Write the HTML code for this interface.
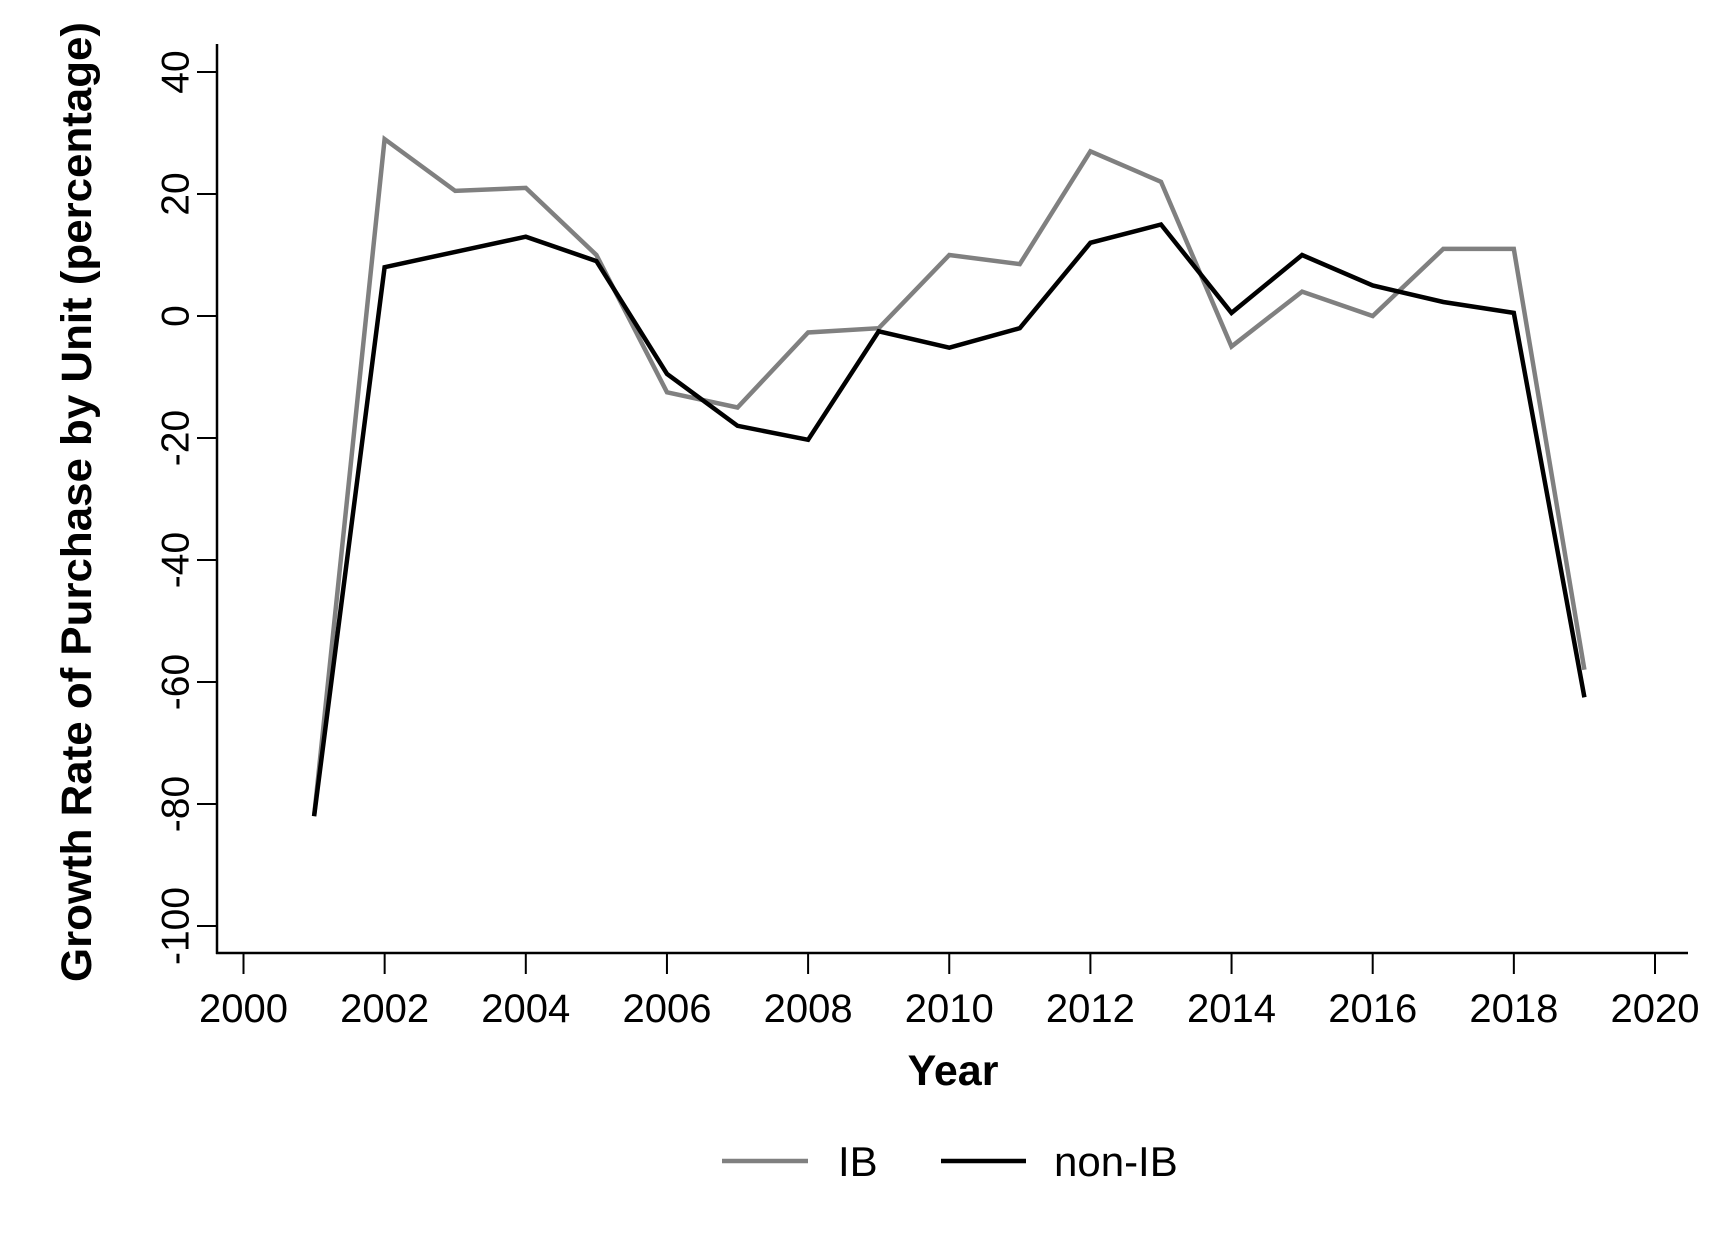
<!DOCTYPE html>
<html><head><meta charset="utf-8"><style>
html,body{margin:0;padding:0;background:#fff;}
svg{display:block;font-family:"Liberation Sans",Arial,sans-serif;}
</style></head><body>
<svg id="chart" width="1727" height="1256" viewBox="0 0 1727 1256" xmlns="http://www.w3.org/2000/svg">
<rect width="1727" height="1256" fill="#fff"/>
<g id="axes"></g>
<g id="series"></g>
<text x="77" y="502" transform="rotate(-90 77 502)" text-anchor="middle" dominant-baseline="central" font-size="43" font-weight="bold" textLength="960" lengthAdjust="spacingAndGlyphs">Growth Rate of Purchase by Unit (percentage)</text>
<text x="953" y="1085" text-anchor="middle" font-size="43" font-weight="bold">Year</text>
<g>
<line x1="722" y1="1161" x2="808" y2="1161" stroke="#808080" stroke-width="4.5"/>
<text x="838" y="1176" font-size="42">IB</text>
<line x1="941" y1="1161" x2="1026" y2="1161" stroke="#000" stroke-width="4.5"/>
<text x="1054" y="1176" font-size="42">non-IB</text>
</g>
</svg>
<script>
const years = [2001,2002,2003,2004,2005,2006,2007,2008,2009,2010,2011,2012,2013,2014,2015,2016,2017,2018,2019];
const ibValues = [-82,29,20.5,21,10,-12.5,-15,-2.7,-2,10,8.5,27,22,-5,4,0,11,11,-58];
const nonIbValues = [-82,8,10.5,13,9,-9.5,-18,-20.3,-2.5,-5.2,-2,12,15,0.5,10,5,2.3,0.5,-62.5];
const xTicks = [2000,2002,2004,2006,2008,2010,2012,2014,2016,2018,2020];
const yTicks = [40,20,0,-20,-40,-60,-80,-100];

const NS = "http://www.w3.org/2000/svg";
function xs(v){ return 243.5 + (v-2000)*(1655-243.5)/20; }
function ys(v){ return 72 + (40 - v)*(926-72)/140; }
function mk(tag, attrs, parent){
  const e = document.createElementNS(NS, tag);
  for (const k in attrs) e.setAttribute(k, attrs[k]);
  parent.appendChild(e); return e;
}
const axes = document.getElementById('axes');
const yAxis = mk('line',{x1:217,y1:44,x2:217,y2:954,stroke:'#000','stroke-width':2.5},axes);


const xAxis = mk('line',{x1:216,y1:953,x2:1688,y2:953,stroke:'#000','stroke-width':2.5},axes);


yTicks.forEach(v=>{
  const y = ys(v);
  const t = mk('line',{x1:197,y1:y,x2:217,y2:y,stroke:'#000','stroke-width':2},axes);
  
  
  const l = mk('text',{x:176,y:y,transform:`rotate(-90 176 ${y})`,'text-anchor':'middle','dominant-baseline':'central','font-size':39},axes);
  
  
  l.textContent = v;
});
xTicks.forEach(v=>{
  const x = xs(v);
  const t = mk('line',{x1:x,y1:953,x2:x,y2:974,stroke:'#000','stroke-width':2},axes);
  
  
  const l = mk('text',{x:x,y:1022,'text-anchor':'middle','font-size':40},axes);
  
  
  l.textContent = v;
});
const series = document.getElementById('series');
function drawLine(vals, color, name){
  const pts = vals.map((v,i)=>xs(years[i]).toFixed(1)+','+ys(v).toFixed(1)).join(' ');
  const p = mk('polyline',{points:pts,fill:'none',stroke:color,'stroke-width':4.5,'stroke-linejoin':'miter'},series);
  
  
}
drawLine(ibValues,'#808080','ib-line');
drawLine(nonIbValues,'#000','non-ib-line');
</script>
</body></html>
